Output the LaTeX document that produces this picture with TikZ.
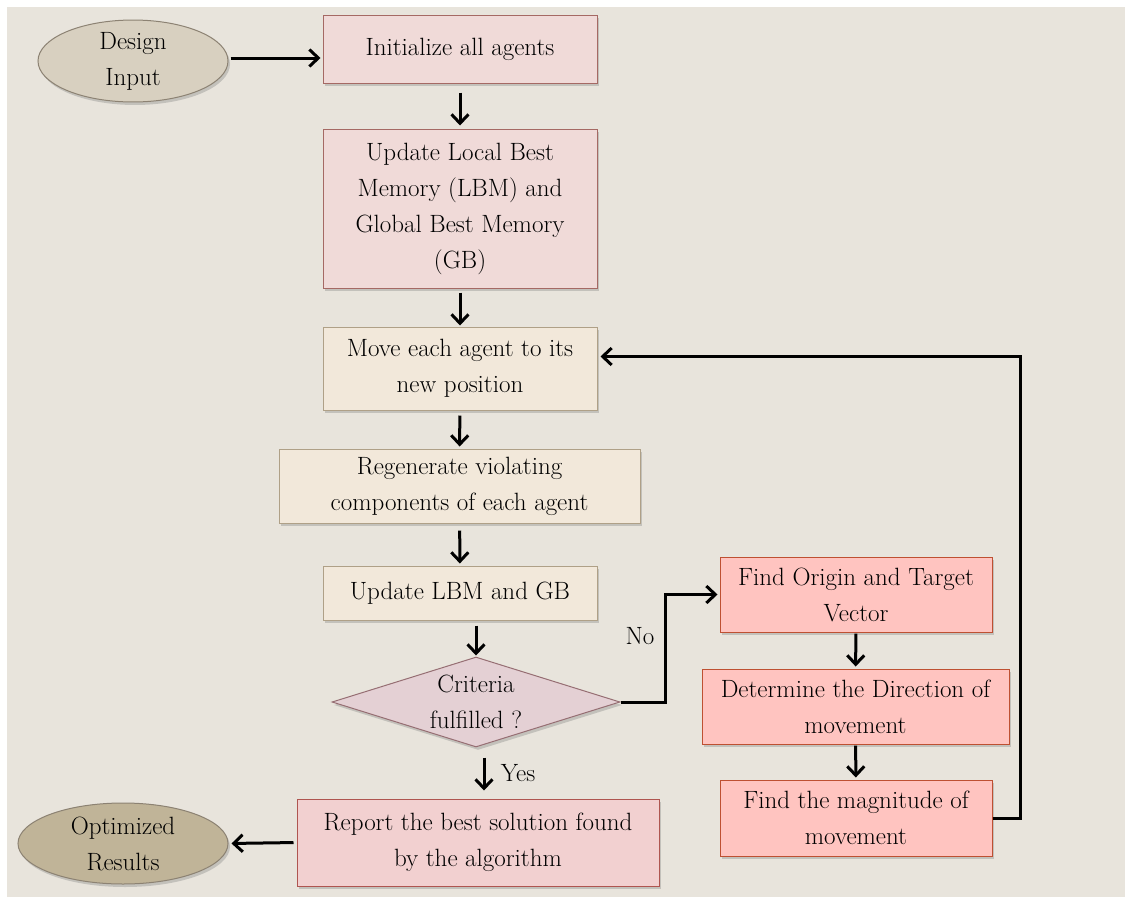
\documentclass[tikz,border=0pt]{standalone}
\usepackage{fontspec}
\usetikzlibrary{shapes.geometric,arrows.meta,shadows}
\definecolor{bgcol}{RGB}{232,228,220}
\definecolor{pinkfill}{RGB}{240,218,216}
\definecolor{pinkline}{RGB}{165,105,100}
\definecolor{beigefill}{RGB}{242,232,218}
\definecolor{beigeline}{RGB}{175,160,135}
\definecolor{mauvefill}{RGB}{228,208,212}
\definecolor{mauveline}{RGB}{150,110,115}
\definecolor{repfill}{RGB}{242,208,208}
\definecolor{repline}{RGB}{175,85,80}
\definecolor{salmonfill}{RGB}{255,196,192}
\definecolor{salmonline}{RGB}{190,80,50}
\definecolor{ovalfill}{RGB}{216,208,192}
\definecolor{ovaldark}{RGB}{192,180,152}
\definecolor{ovalline}{RGB}{140,130,115}
\tikzset{
  box/.style={rectangle,draw,line width=1pt,align=center,inner sep=2pt,
    drop shadow={shadow xshift=2pt,shadow yshift=-3pt,opacity=0.35}},
  pinkbox/.style={box,fill=pinkfill,draw=pinkline},
  beigebox/.style={box,fill=beigefill,draw=beigeline},
  salmonbox/.style={box,fill=salmonfill,draw=salmonline},
  oval/.style={ellipse,draw=ovalline,line width=1pt,align=center,inner sep=0pt,
    drop shadow={shadow xshift=2pt,shadow yshift=-3pt,opacity=0.35}},
  arr/.style={-{Straight Barb[length=9pt,width=17pt]},line width=3pt},
}
\begin{document}
\begin{tikzpicture}[x=1pt,y=-1pt,font=\fontsize{25}{36}\selectfont]
\useasboundingbox (0,0) rectangle (1125,897);
\fill[bgcol] (7,7) rectangle (1125,897);
\node[oval,fill=ovalfill,minimum width=190,minimum height=78] (des) at (133,61) {Design\\Input};
\node[pinkbox,minimum width=274,minimum height=68] (init) at (460,49) {Initialize all agents};
\node[pinkbox,minimum width=274,minimum height=159] (lbm) at (460,208.5) {Update Local Best\\Memory (LBM) and\\Global Best Memory\\(GB)};
\node[beigebox,minimum width=274,minimum height=83] (move) at (460,368.5) {Move each agent to its\\new position};
\node[beigebox,minimum width=361,minimum height=74] (regen) at (459.5,486) {Regenerate violating\\components of each agent};
\node[beigebox,minimum width=274,minimum height=54] (upd) at (460,593) {Update LBM and GB};
\node[diamond,draw=mauveline,fill=mauvefill,line width=1pt,align=center,inner sep=0pt,
  minimum width=288,minimum height=90,aspect=3.2,
  drop shadow={shadow xshift=2pt,shadow yshift=-3pt,opacity=0.35}] (crit) at (476,702) {Criteria\\fulfilled ?};
\node[box,fill=repfill,draw=repline,minimum width=362,minimum height=87] (rep) at (478,842.5) {Report the best solution found\\by the algorithm};
\node[oval,fill=ovaldark,minimum width=210,minimum height=81] (opt) at (123,843.5) {Optimized\\Results};
\node[salmonbox,minimum width=272,minimum height=75] (orig) at (856,594.5) {Find Origin and Target\\Vector};
\node[salmonbox,minimum width=307,minimum height=75] (dir) at (855.5,706.5) {Determine the Direction of\\movement};
\node[salmonbox,minimum width=272,minimum height=76] (mag) at (856,818) {Find the magnitude of\\movement};
\node (no) at (640,636) {No};
\node (yes) at (518,773) {Yes};
\draw[arr,shorten <=2pt,shorten >=2pt] ([yshift=3pt]des.east) -- ([yshift=3pt]des.east -| init.west);
\draw[arr,shorten <=9pt,shorten >=3pt] (init) -- (lbm);
\draw[arr,shorten <=4pt,shorten >=1pt] (lbm) -- (move);
\draw[arr,shorten <=5pt,shorten >=2pt] (move) -- (regen);
\draw[arr,shorten <=7pt,shorten >=2pt] (regen) -- (upd);
\draw[arr,shorten <=5pt,shorten >=1pt] (upd.south -| crit.north) -- (crit.north);
\draw[arr,shorten <=10pt,shorten >=8pt] ([xshift=8pt]crit.south) -- ([xshift=8pt]crit.south |- rep.north);
\draw[arr,shorten <=3pt,shorten >=3pt] (rep.west) -- (opt.east);
\draw[arr,shorten >=2pt] (crit.east) -- ++(45,0) |- (orig.west);
\draw[arr,shorten <=1pt,shorten >=2pt] (orig) -- (dir);
\draw[arr,shorten <=1pt,shorten >=2pt] (dir) -- (mag);
\draw[arr,shorten >=3pt] (mag.east) -- ++(28,0) |- ([yshift=12pt]move.east);
\end{tikzpicture}
\end{document}
